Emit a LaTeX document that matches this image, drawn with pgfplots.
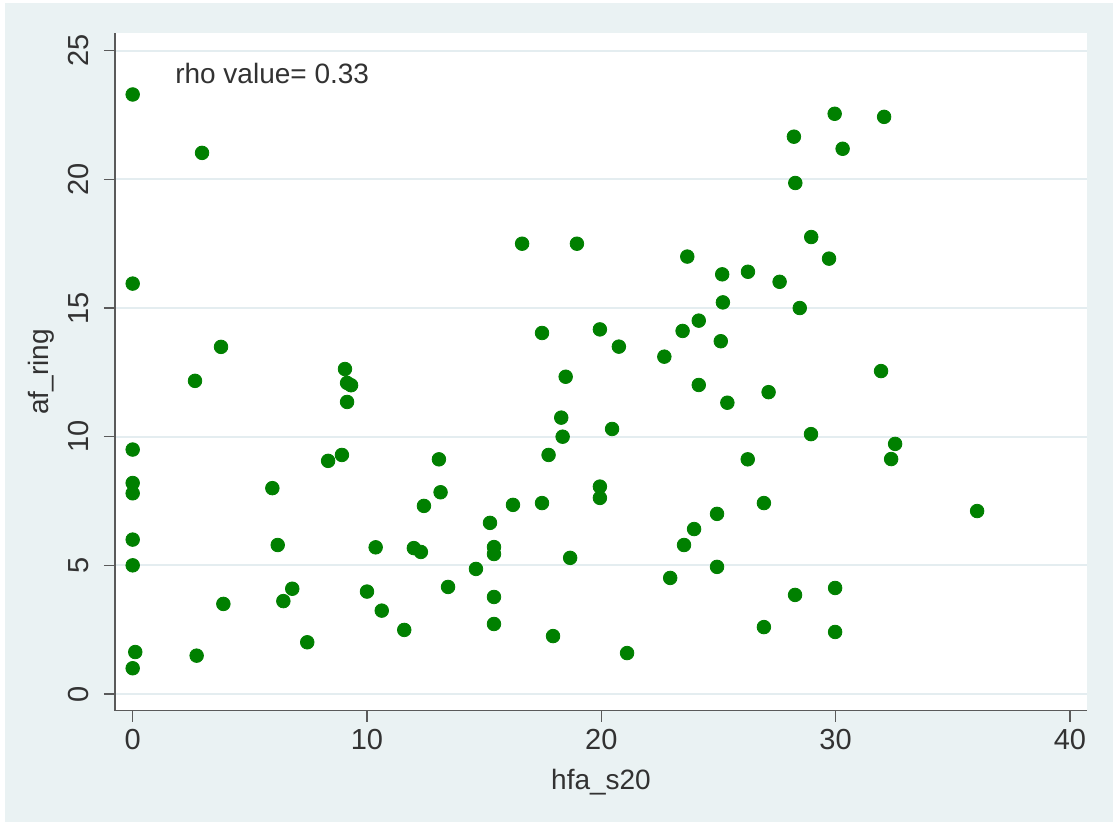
\documentclass[border=0pt]{standalone}
\usepackage{fontspec}
\setmainfont{Liberation Sans}
\usepackage{pgfplots}
\pgfplotsset{compat=1.18}
\definecolor{bgc}{RGB}{234,242,243}
\definecolor{gridc}{RGB}{228,237,240}
\definecolor{mk}{RGB}{0,128,0}
\definecolor{axc}{RGB}{90,90,90}
\definecolor{txc}{RGB}{50,50,50}
\begin{document}
\begin{tikzpicture}
\useasboundingbox (0,0) rectangle (556.5pt,-411pt);
\fill[bgc] (2.5pt,-1.5pt) rectangle (556.5pt,-411pt);
\begin{axis}[
  at={(57.5pt,-355.35pt)}, anchor=south west,
  scale only axis, width=486pt, height=338.85pt,
  xmin=-0.755, xmax=40.73, ymin=-0.65, ymax=25.69,
  axis x line*=bottom, axis y line*=left,
  axis line style={axc, line width=0.7pt, -},
  axis background/.style={fill=white},
  xtick={0,10,20,30,40}, ytick={0,5,10,15,20,25},
  tick align=outside, major tick length=5.5pt,
  tick style={axc, line width=0.7pt},
  ymajorgrids, grid style={gridc, line width=0.9pt},
  /pgf/number format/assume math mode=true,
  ticklabel style={font=\fontsize{14.5}{16}\selectfont, text=txc},
  yticklabel style={rotate=90, anchor=south},
  yticklabel shift=4pt,
  label style={font=\fontsize{14}{16}\selectfont, text=txc},
  xlabel style={yshift=-3pt},
  xlabel={hfa\_s20}, ylabel={af\_ring},
  clip=false,
]
\addplot[only marks, mark=*, mark size=3.4pt, mark options={fill=mk, draw=mk}] coordinates {
(0,23.3) (0,15.95) (0,9.5) (0,8.2) (0,7.8) (0,6.0) (0,5.0) (0.11,1.63) (0,1.0)
(2.73,1.49) (3.87,3.5) (6.19,5.79) (6.43,3.61) (6.81,4.09) (7.45,2.01)
(10.37,5.70) (10.0,3.98) (10.63,3.24) (11.59,2.49)
(2.96,21.03) (2.66,12.17) (3.77,13.49) (5.96,8.0) (8.34,9.06) (8.93,9.29)
(9.06,12.63) (9.15,12.09) (9.32,12.0) (9.15,11.35)
(12.0,5.67) (12.3,5.52) (12.43,7.31) (13.07,9.12) (13.14,7.84) (13.46,4.16)
(14.65,4.86) (15.25,6.65) (15.42,5.71) (15.42,5.44) (15.42,3.77) (15.42,2.72)
(16.23,7.35) (16.62,17.5) (17.47,7.42) (17.47,14.03) (17.75,9.29) (17.94,2.25)
(18.29,10.74) (18.35,10.0) (18.48,12.33) (18.67,5.29) (18.96,17.5)
(19.94,14.17) (19.94,8.06) (19.94,7.62) (20.46,10.3) (20.75,13.5) (21.1,1.59)
(22.69,13.11) (22.94,4.51) (23.47,14.11) (23.53,5.79) (23.67,17.0) (23.96,6.41)
(24.16,12.01) (24.16,14.51) (24.94,7.0) (24.94,4.94) (25.1,13.71) (25.16,16.31)
(25.19,15.22) (25.38,11.32) (26.26,16.41) (26.25,9.12) (26.94,7.42) (26.94,2.6)
(27.14,11.73) (27.61,16.02) (28.27,3.85) (28.22,21.66) (28.28,19.86) (28.47,15.0)
(28.96,17.76) (28.95,10.1) (29.72,16.92) (29.96,22.55) (29.98,4.12) (29.98,2.41)
(30.3,21.19) (31.94,12.55) (32.07,22.43) (32.37,9.13) (32.54,9.72) (36.04,7.11)
};
\node[anchor=west, font=\fontsize{14}{16}\selectfont, text=txc, inner sep=0pt] at (axis cs:1.8,24.13) {rho value= 0.33};
\end{axis}
\end{tikzpicture}
\end{document}
